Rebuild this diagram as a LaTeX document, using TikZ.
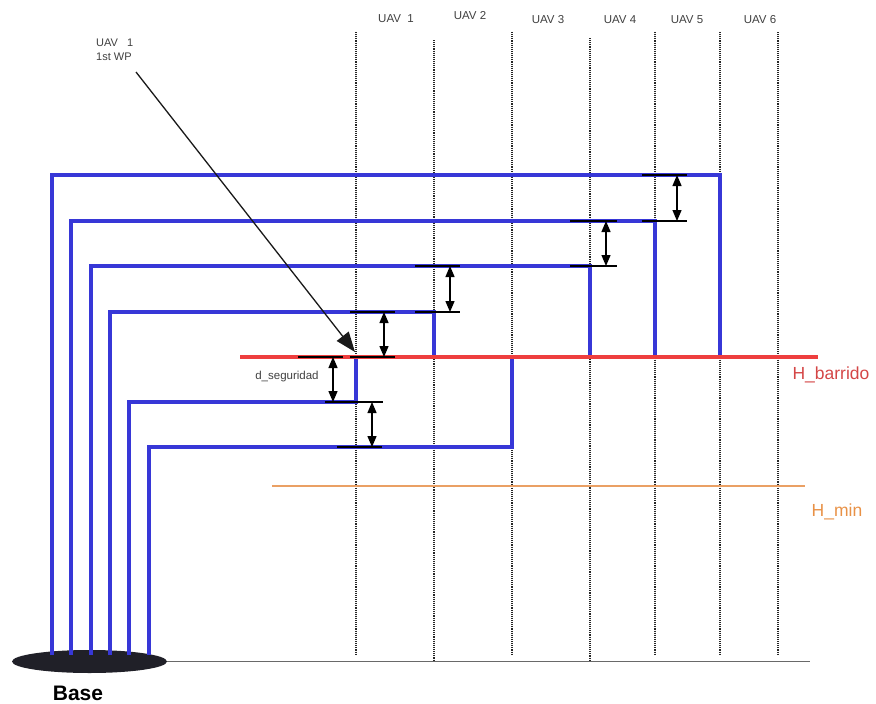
\documentclass[tikz,border=0pt]{standalone}
\usepackage{fontspec}
\setmainfont{Liberation Sans}
\usetikzlibrary{arrows.meta,shapes.geometric}
\definecolor{uavblue}{RGB}{55,55,215}
\definecolor{sweepred}{RGB}{238,62,62}
\definecolor{minorange}{RGB}{234,160,100}
\definecolor{hred}{RGB}{212,70,70}
\definecolor{horange}{RGB}{232,145,70}
\definecolor{basegray}{RGB}{105,105,105}
\definecolor{basedark}{RGB}{32,32,40}
\begin{document}
\begin{tikzpicture}[x=1pt,y=-1pt,
  uav/.style={draw=uavblue,line width=3.4pt,line join=miter},
  guide/.style={draw=black!85,line width=1.1pt,densely dotted},
  tick/.style={draw=black,line width=1.3pt},
  dimarrow/.style={draw=black,line width=1.3pt,{Triangle[length=11pt,width=9pt]}-{Triangle[length=11pt,width=9pt]}},
  lab/.style={inner sep=0pt,font=\fontsize{11.5}{14}\selectfont,text=black!75}
]
\useasboundingbox (0,0) rectangle (876,704);

% dotted guides
\draw[guide] (356,32) -- (356,654);
\draw[guide] (434,40) -- (434,661);
\draw[guide] (512,32) -- (512,654);
\draw[guide] (590,38) -- (590,661);
\draw[guide] (655,32) -- (655,654);
\draw[guide] (720,32) -- (720,654);
\draw[guide] (778,32) -- (778,654);

% base
\node[ellipse,fill=basedark,inner sep=0pt,minimum width=155pt,minimum height=23pt] (base) at (89.5,661.5) {};
\coordinate (baseend) at (810,661.5);
\draw[basegray,line width=1.8pt] (base.east) -- (baseend);
\node[inner sep=0pt,font=\fontsize{21}{24}\selectfont\bfseries] (baselab) at (78,693) {Base};

% H_min
\coordinate (hminL) at (272,486);
\coordinate (hminR) at (805,486);
\draw[minorange,line width=1.5pt] (hminL) -- (hminR);
\node[inner sep=0pt,font=\fontsize{17.5}{20}\selectfont,text=horange] (hminlab) at (837,512) {H\_min};

% blue paths
\draw[uav] (52,655) |- (720,175) -- (720,357);
\draw[uav] (71,655) |- (655,221) -- (655,357);
\draw[uav] (91,655) |- (590,266) -- (590,357);
\draw[uav] (110,655) |- (434,312) -- (434,357);
\draw[uav] (129,655) |- (356,402) -- (356,357);
\draw[uav] (149,655) |- (512,447) -- (512,357);

% sweep height
\coordinate (hbL) at (240,357);
\coordinate (hbR) at (818,357);
\draw[sweepred,line width=4.8pt] (hbL) -- (hbR);
\node[inner sep=0pt,font=\fontsize{17.5}{20}\selectfont,text=hred] (hblab) at (831,375) {H\_barrido};

% UAV labels
\node[lab] (u1) at (396,19) {UAV\ \ 1};
\node[lab] (u2) at (470,16) {UAV 2};
\node[lab] (u3) at (548,20) {UAV 3};
\node[lab] (u4) at (620,20) {UAV 4};
\node[lab] (u5) at (687,20) {UAV 5};
\node[lab] (u6) at (760,20) {UAV 6};

% first waypoint
\node[lab,anchor=west,align=left,font=\fontsize{11}{14}\selectfont] (wp) at (96,50) {UAV\ \ \ 1\\1st WP};
\coordinate (wpstart) at (136,72);
\coordinate (wptip) at (355,352);
\draw[black!90,line width=1.3pt,-{Triangle[length=20pt,width=15pt]}] (wpstart) -- (wptip);

% ticks and separations
\draw[tick] (642,175) -- (687,175);
\draw[tick] (642,221) -- (687,221);
\draw[dimarrow] (677,175) -- (677,221);

\draw[tick] (570,221) -- (617,221);
\draw[tick] (570,266) -- (617,266);
\draw[dimarrow] (606,221) -- (606,266);

\draw[tick] (415,266) -- (460,266);
\draw[tick] (415,312) -- (460,312);
\draw[dimarrow] (450,266) -- (450,312);

\draw[tick] (350,312) -- (395,312);
\draw[tick] (350,357) -- (395,357);
\draw[dimarrow] (384,312) -- (384,357);

\draw[tick] (298,357) -- (343,357);
\draw[tick] (325,402) -- (383,402);
\draw[dimarrow] (333,357) -- (333,402);
\node[lab] (dseg) at (287,377) {d\_seguridad};

\draw[tick] (337,447) -- (382,447);
\draw[dimarrow] (372,402) -- (372,447);
\end{tikzpicture}
\end{document}
